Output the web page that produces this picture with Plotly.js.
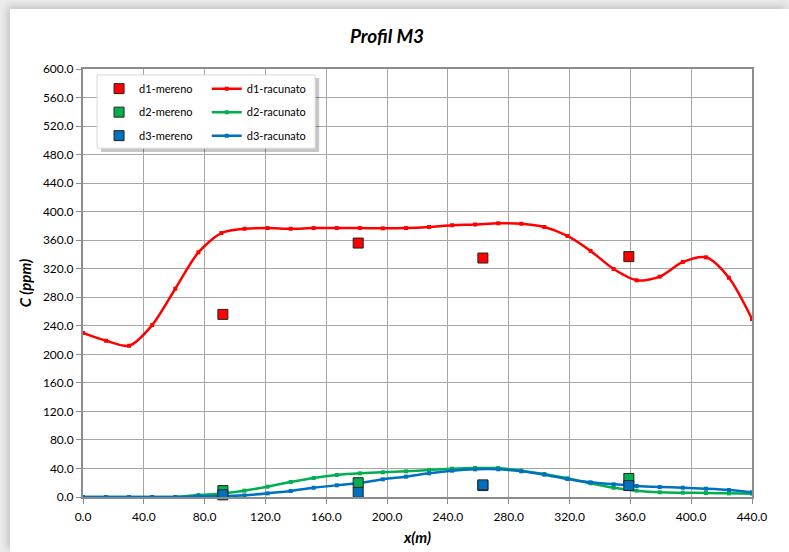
<!DOCTYPE html>
<html>
<head>
<meta charset="utf-8">
<script src="https://cdn.plot.ly/plotly-3.0.1.min.js"></script>
<style>
  html, body { margin: 0; padding: 0; background: #ededed; width: 789px; height: 552px; overflow: hidden; }
  #chart { position: absolute; left: 10px; top: 9px; width: 779px; height: 543px; background: #ffffff; box-shadow: -3px -3px 8px rgba(0,0,0,0.18); }
</style>
</head>
<body>
<div id="chart"></div>
<script>
// ---- data ----
const xCalc = [0, 15.2, 30.3, 45.5, 60.7, 75.9, 91.0, 106.2, 121.4, 136.6, 151.7, 166.9, 182.1, 197.2, 212.4,
               227.6, 242.8, 257.9, 273.1, 288.3, 303.4, 318.6, 333.8, 349.0, 364.1, 379.3, 394.5, 409.7, 424.8, 440.0];
const d1Calc = [230, 219, 212, 241, 292, 343, 370, 376, 377, 376, 377, 377, 377, 376.6, 377,
                378.5, 381, 382, 383.7, 383, 378.5, 366, 345, 319.6, 303.8, 308.9, 329.5, 336, 307.4, 249.5];
const d2Calc = [0, 0, 0, 0, 0, 2.8, 5, 8.9, 14.5, 21, 26.6, 30.8, 33.2, 34.6, 36,
                37.8, 39.7, 40.6, 40.6, 36.9, 32.2, 26.2, 19.2, 13, 8.9, 6.6, 6, 5.6, 5.1, 4.7];
const d3Calc = [0, 0, 0, 0, 0, 1, 1, 2.3, 5.1, 8.4, 13, 16.4, 19.5, 24.8, 28.5,
                33.2, 36.9, 38.8, 38.8, 36, 31.3, 25.2, 20.6, 17.8, 15.4, 14, 13, 11.6, 9.8, 6.6];

const xMeas = [92, 181, 263, 359];
const d1Meas = [256, 356, 335, 337];
const d2Meas = [9, 20, 16, 26];
const d3Meas = [3, 6.5, 17, 16];

const xTicks = [0, 40, 80, 120, 160, 200, 240, 280, 320, 360, 400, 440];
const yTicks = [0, 40, 80, 120, 160, 200, 240, 280, 320, 360, 400, 440, 480, 520, 560, 600];

// ---- styles ----
const RED = '#ff0000', GREEN = '#00b050', BLUE = '#0070c0';
const FONT = 'Lato, "Open Sans", sans-serif';

function meas(name, y, color, rank) {
  return { x: xMeas, y: y, name: name, type: 'scatter', mode: 'markers', legend: 'legend',
           legendgroup: name, legendrank: rank, cliponaxis: false,
           marker: { symbol: 'square', size: 10, color: color, line: { color: '#222', width: 1 } } };
}
function calc(name, y, color, rank) {
  return { x: xCalc, y: y, name: name, type: 'scatter', mode: 'lines+markers', legend: 'legend2',
           legendgroup: name, legendrank: rank, cliponaxis: false,
           line: { color: color, width: 2.5, shape: 'spline', smoothing: 0.8 },
           marker: { symbol: 'square', size: 4, color: color } };
}

const traces = [
  calc('d2-racunato', d2Calc, GREEN, 2),
  calc('d3-racunato', d3Calc, BLUE, 3),
  calc('d1-racunato', d1Calc, RED, 1),
  meas('d1-mereno', d1Meas, RED, 1),
  meas('d2-mereno', d2Meas, GREEN, 2),
  meas('d3-mereno', d3Meas, BLUE, 3)
];

const axisCommon = {
  showgrid: true, gridcolor: '#a6a6a6', gridwidth: 1,
  showline: true, linecolor: '#8c8c8c', linewidth: 2, mirror: true,
  ticks: 'outside', ticklen: 5, tickcolor: '#8c8c8c', tickwidth: 1,
  zeroline: false, tickformat: '.1f',
  tickfont: { family: FONT, size: 12, color: '#000' }
};

const legendCommon = {
  bgcolor: 'rgba(0,0,0,0)', borderwidth: 0, orientation: 'v',
  xanchor: 'left', yanchor: 'top', traceorder: 'grouped', tracegroupgap: 4.5,
  font: { family: FONT, size: 11, color: '#000' }, itemwidth: 30
};

const layout = {
  width: 779, height: 543,
  paper_bgcolor: '#ffffff', plot_bgcolor: '#ffffff',
  margin: { l: 73, r: 37, t: 60, b: 55 },
  showlegend: true,
  title: { text: '<b><i>Profil M3</i></b>', xref: 'container', x: 0.484, xanchor: 'center',
           yref: 'container', y: 0.95, yanchor: 'middle',
           font: { family: FONT, size: 19, color: '#000' } },
  xaxis: Object.assign({}, axisCommon, {
    range: [0, 440], tickmode: 'array', tickvals: xTicks, ticklabelstandoff: 3,
    title: { text: '<b><i>x(m)</i></b>', standoff: 9, font: { family: FONT, size: 15, color: '#000' } }
  }),
  yaxis: Object.assign({}, axisCommon, {
    range: [0, 600], tickmode: 'array', tickvals: yTicks,
    title: { text: '<b><i>C (ppm)</i></b>', standoff: 8, font: { family: FONT, size: 15, color: '#000' } }
  }),
  legend: Object.assign({}, legendCommon, { x: 0.024, y: 0.988 }),
  legend2: Object.assign({}, legendCommon, { x: 0.185, y: 0.988 }),
  shapes: [
    { type: 'rect', xref: 'paper', yref: 'paper', layer: 'above',
      x0: 0.027, x1: 0.353, y0: 0.806, y1: 0.979,
      fillcolor: 'rgba(0,0,0,0.22)', line: { width: 0 } },
    { type: 'rect', xref: 'paper', yref: 'paper', layer: 'above',
      x0: 0.021, x1: 0.347, y0: 0.815, y1: 0.986,
      fillcolor: '#ffffff', line: { color: '#d9d9d9', width: 1 } }
  ]
};

Plotly.newPlot('chart', traces, layout, { displayModeBar: false, staticPlot: true });
</script>
</body>
</html>
